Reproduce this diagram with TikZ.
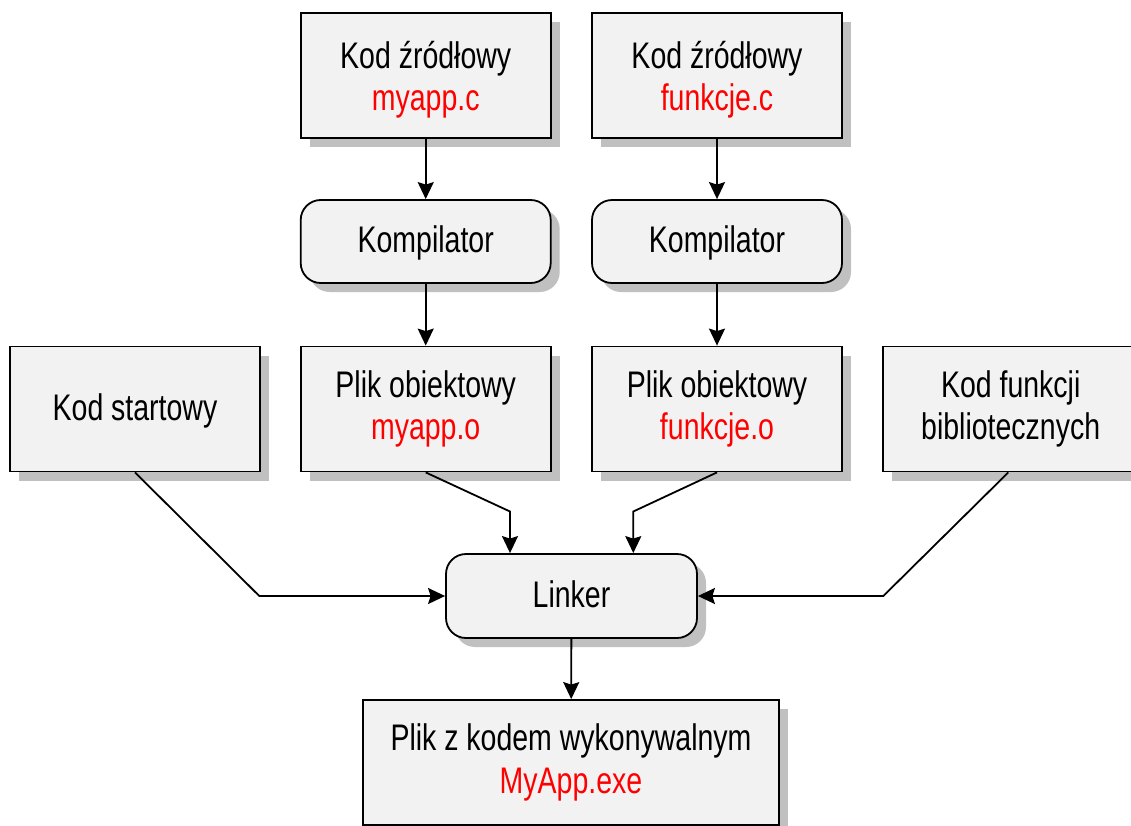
\documentclass[tikz,border=0pt]{standalone}
\usepackage{fontspec}
\setmainfont{Liberation Sans}[FakeStretch=0.77]
\usetikzlibrary{arrows.meta,shadows,calc}
\definecolor{boxfill}{HTML}{F2F2F2}
\definecolor{shadowgray}{HTML}{C0C0C0}
\definecolor{fname}{HTML}{FF0000}
\begin{document}
\begin{tikzpicture}[x=1pt,y=-1pt,
  font=\fontsize{37pt}{42.5pt}\selectfont,
  base/.style={draw=black, line width=1.8pt, fill=boxfill, inner sep=0pt, align=center,
    drop shadow={shadow xshift=9pt, shadow yshift=-9pt, fill=shadowgray, opacity=1}},
  filebox/.style={base, minimum width=250pt, minimum height=125pt},
  procbox/.style={base, rounded corners=20pt, minimum width=250pt, minimum height=83pt},
  oneline/.style={text height=27pt, text depth=5pt},
  srctext/.style={text height=79pt, text depth=8pt},
  arr/.style={draw=black, line width=1.8pt, -{Stealth[length=17pt,width=16pt,inset=2.5pt]}}
]
\clip (0,0) rectangle (1131,825);
\fill[white] (0,0) rectangle (1131,825);

\node[filebox, srctext] (src1) at (425.7,75.3) {Kod źródłowy\\\textcolor{fname}{myapp.c}};
\node[filebox, srctext] (src2) at (717,75.3) {Kod źródłowy\\\textcolor{fname}{funkcje.c}};
\node[procbox, oneline] (comp1) at (425.7,241.5) {Kompilator};
\node[procbox, oneline] (comp2) at (717,241.5) {Kompilator};
\node[filebox, oneline] (start) at (135,409) {Kod startowy};
\node[filebox] (obj1) at (425.7,409) {Plik obiektowy\\\textcolor{fname}{myapp.o}};
\node[filebox] (obj2) at (717,409) {Plik obiektowy\\\textcolor{fname}{funkcje.o}};
\node[filebox, minimum width=256pt] (lib) at (1010.7,409) {Kod funkcji\\bibliotecznych};
\node[procbox, oneline, minimum width=251pt, minimum height=84pt] (linker) at (571.5,596) {Linker};
\node[filebox, minimum width=416.6pt] (exe) at (571,762.5) {Plik z kodem wykonywalnym\\\textcolor{fname}{MyApp.exe}};

\coordinate (j1) at (510,511.5);
\coordinate (j2) at (633.3,511.5);
\coordinate (j3) at (259.3,596);
\coordinate (j4) at (883.3,596);
\coordinate (libout) at (1008.3,471.5);

\draw[arr] (src1) -- (comp1);
\draw[arr] (src2) -- (comp2);
\draw[arr] (comp1) -- (obj1);
\draw[arr] (comp2) -- (obj2);
\draw[arr] (obj1.south) -- (j1) -- (j1 |- linker.north);
\draw[arr] (obj2.south) -- (j2) -- (j2 |- linker.north);
\draw[arr] (start.south) -- (j3) -- (linker.west);
\draw[arr] (libout |- lib.south) -- (j4) -- (linker.east);
\draw[arr] (linker) -- (exe);
\end{tikzpicture}
\end{document}
